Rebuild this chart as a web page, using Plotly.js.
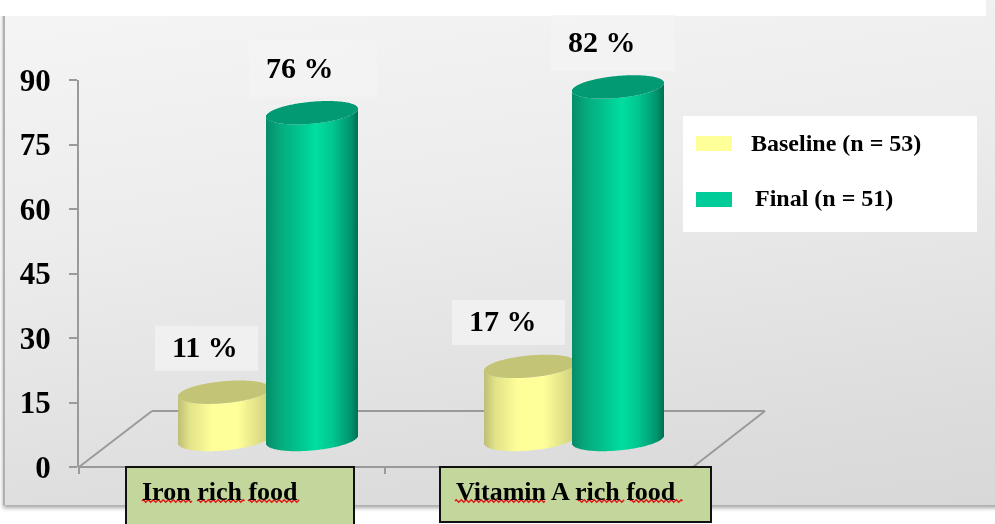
<!DOCTYPE html>
<html><head><meta charset="utf-8">
<script src="https://cdn.plot.ly/plotly-3.0.1.min.js"></script>
<style>
html,body{margin:0;padding:0;background:#fff;overflow:hidden;width:995px;height:524px}
#panel{position:absolute;left:3px;top:0;width:1000px;height:505px;box-sizing:border-box;border-left:2px solid #b0b0b0;
 background:linear-gradient(172deg,#f5f5f5 0%,#ececec 40%,#dcdcdc 85%,#d8d8d8 100%);box-shadow:0 3px 4px rgba(0,0,0,.35)}
#strip{position:absolute;left:0;top:0;width:986px;height:16px;background:#fff}
#chart{position:absolute;left:0;top:0;width:995px;height:524px;filter:blur(0.4px)}
</style></head><body>
<div id="panel"></div><div id="strip"></div><div id="chart"></div>
<script>
// ---- data ----
const categories = ["Iron rich food", "Vitamin A rich food"];
const baseline = [11, 17];
const finalVals = [76, 82];
const seriesNames = ["Baseline (n = 53)", "Final (n = 51)"];
const yTicks = [0, 15, 30, 45, 60, 75, 90];

// ---- geometry of the frame (pixels of the 995x524 page) ----
const W = 995, H = 524, L = 78, T = 16, Y0 = 467, PXU = 4.3, CATPX = 306, CAT0 = 232;
const yTop = (Y0 - T) / PXU;
const xMin = (L - CAT0) / CATPX, xMax = (W - CAT0) / CATPX;
const px = x => (x - L) / (W - L);
const py = y => (Y0 - y) / (Y0 - T);
const FONT = "Liberation Serif";

// ---- cylinder drawing through bars made of thin vertical strips ----
const RAD = 46, TILT = 4, MINOR = 11, LIFT = 27.5 / PXU;
const lerp = (a, b, t) => a.map((v, i) => v + (b[i] - v) * t);
function shade(stops, u) {
  for (let i = 1; i < stops.length; i++) {
    if (u <= stops[i][0]) {
      const t = (u - stops[i-1][0]) / (stops[i][0] - stops[i-1][0]);
      const c = lerp(stops[i-1][1], stops[i][1], t);
      return `rgb(${c.map(Math.round).join(",")})`;
    }
  }
  return `rgb(${stops[stops.length-1][1].join(",")})`;
}
function cylinderTrace(name, values, dx, stops, cap) {
  const t = {type:"bar", name, x:[], y:[], base:[], offset:[], width:[],
    marker:{color:[], line:{width:0}}, showlegend:false, hoverinfo:"skip", cliponaxis:true};
  values.forEach((v, i) => {
    for (let p = -RAD; p < RAD; p += 1) {
      const u = (p + 0.5) / RAD, arc = Math.sqrt(Math.max(0, 1 - u*u));
      const low = LIFT + (TILT * u - MINOR * arc) / PXU;
      t.x.push(categories[i]); t.y.push(v); t.base.push(low);
      t.offset.push((dx + p) / CATPX); t.width.push(1 / CATPX);
      t.marker.color.push(shade(stops, u));
    }
    for (let p = -RAD; p < RAD; p += 1) {
      const u = (p + 0.5) / RAD, arc = Math.sqrt(Math.max(0, 1 - u*u));
      const low = LIFT + v + (TILT * u - MINOR * arc) / PXU;
      t.x.push(categories[i]); t.y.push(2 * MINOR * arc / PXU); t.base.push(low);
      t.offset.push((dx + p) / CATPX); t.width.push(1 / CATPX);
      t.marker.color.push(cap);
    }
  });
  return t;
}
const yellowStops = [[-1,[190,190,120]],[-0.75,[226,226,136]],[-0.25,[255,255,153]],[0.3,[255,255,153]],[1,[205,205,125]]];
const greenStops = [[-1,[6,140,104]],[-0.7,[6,170,124]],[-0.25,[0,198,144]],[0.08,[0,222,160]],[0.45,[0,198,144]],[0.85,[0,146,108]],[1,[0,112,84]]];
const traces = [
  cylinderTrace(seriesNames[0], baseline, -8, yellowStops, "#c4c476"),
  cylinderTrace(seriesNames[1], finalVals, 80, greenStops, "#019a73")
];

// ---- frame shapes ----
const grey = "#9a9a9a";
const line = (x0,y0,x1,y1) => ({type:"line",xref:"paper",yref:"paper",x0:px(x0),y0:py(y0),x1:px(x1),y1:py(y1),layer:"below",line:{color:grey,width:2}});
const shapes = [
  line(78,80,78,467), line(78,467,693,467), line(79,467,152,411), line(152,411,765,411), line(693,467,765,411)
];
const rect = (x0,y0,x1,y1,fill,ln) => ({type:"rect",xref:"paper",yref:"paper",x0:px(x0),y0:py(y0),x1:px(x1),y1:py(y1),layer:"above",fillcolor:fill,line:ln||{width:0}});

// value labels
const valuesAll = [baseline[0], finalVals[0], baseline[1], finalVals[1]];
const boxes = [[155,258,45],[249,377,56],[452,565,45],[551,675,56]];
const annotations = [];
valuesAll.forEach((v,i) => {
  const [a,b,h] = boxes[i];
  const cy = Y0 - (LIFT + v) * PXU - 44;
  shapes.push(rect(a, cy-h/2, b, cy+h/2, "rgba(244,244,244,0.72)"));
  annotations.push({xref:"paper",yref:"paper",x:px(a+15),y:py(cy-1.5),xanchor:"left",yanchor:"middle",showarrow:false,
    text:v+" %",font:{family:FONT,size:30,color:"#000",weight:"bold"}});
});

// legend
shapes.push(rect(683,116,977,232,"#fff"));
shapes.push(rect(696,136,732,151,"#ffff99"));
shapes.push(rect(696,192,732,207,"#00cc99"));
[[749,143],[753,198]].forEach(([x,y],i) => annotations.push({xref:"paper",yref:"paper",x:px(x),y:py(y),xanchor:"left",yanchor:"middle",showarrow:false,
  text:seriesNames[i],font:{family:FONT,size:24,color:"#000",weight:"bold"}}));

// category boxes
[[126,354,526,140],[440,711,522,454]].forEach(([a,b,bot,tx],i) => {
  shapes.push(rect(a,467,b,bot,"#c3d69b",{color:"#111",width:2}));
  annotations.push({xref:"paper",yref:"paper",x:px(tx),y:py(491),xanchor:"left",yanchor:"middle",showarrow:false,
    text:categories[i],font:{family:FONT,size:26,color:"#000",weight:"bold"}});
});
// red spell-check underlines
[[142,192],[197,245],[248,300],[455,546],[578,625],[630,683]].forEach(([a,b]) => {
  let d = "";
  for (let x = a, k = 0; x <= b; x += 1.25, k++) {
    const y = 501 + (k % 4 === 1 ? -1.3 : k % 4 === 3 ? 1.3 : 0);
    d += (k ? "L" : "M") + px(x) + "," + py(y);
  }
  shapes.push({type:"path",xref:"paper",yref:"paper",path:d,layer:"above",line:{color:"#e01818",width:1.4}});
});

const layout = {
  width:W, height:H, margin:{l:L,r:0,t:T,b:H-Y0,pad:0},
  paper_bgcolor:"rgba(0,0,0,0)", plot_bgcolor:"rgba(0,0,0,0)",
  barmode:"overlay", showlegend:false,
  xaxis:{type:"category", categories, categoryorder:"array", categoryarray:categories, range:[xMin,xMax], fixedrange:true,
    showgrid:false, zeroline:false, showline:false, showticklabels:false,
    ticks:"outside", ticklen:6, tickcolor:grey, tickwidth:2, tickson:"boundaries"},
  yaxis:{range:[0,yTop], fixedrange:true, showgrid:false, zeroline:false, showline:false,
    tickmode:"array", tickvals:yTicks, ticktext:yTicks.map(String),
    ticks:"outside", ticklen:8, tickcolor:grey, tickwidth:2, ticklabelstandoff:12,
    tickfont:{family:FONT,size:31,color:"#000",weight:"bold"}},
  shapes, annotations
};
Plotly.newPlot("chart", traces, layout, {displayModeBar:false, staticPlot:true});
</script></body></html>
